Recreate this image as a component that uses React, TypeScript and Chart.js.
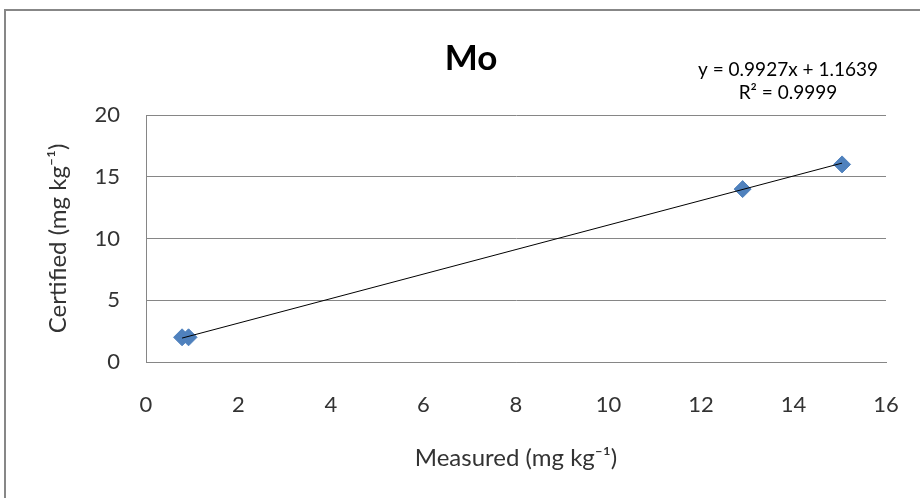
import React, { useEffect, useRef } from "react";
import { Chart, registerables } from "chart.js";

Chart.register(...registerables);

const measured = [0.78, 0.92, 12.9, 15.05];
const certified = [2, 2, 14, 16];
const slope = 0.9927;
const intercept = 1.1639;
const rSquared = "0.9999";
const titleText = "Mo";
const xTitle = "Measured (mg kg\u207B\u00B9)";
const yTitle = "Certified (mg kg\u207B\u00B9)";
const equationText = "y = 0.9927x + 1.1639";
const r2Text = "R\u00B2 = " + rSquared;

const FONT = "Lato, 'Open Sans', sans-serif";

export default function App() {
  const ref = useRef<HTMLCanvasElement | null>(null);

  useEffect(() => {
    if (!ref.current) return;
    const xMin = Math.min(...measured);
    const xMax = Math.max(...measured);
    const trend = [
      { x: xMin, y: slope * xMin + intercept },
      { x: xMax, y: slope * xMax + intercept },
    ];
    const points = measured.map((m, i) => ({ x: m, y: certified[i] }));

    const decor = {
      id: "decor",
      afterDraw(chart: any) {
        const ctx = chart.ctx;
        ctx.save();
        // outer frame
        ctx.strokeStyle = "#878787";
        ctx.lineWidth = 2;
        ctx.beginPath();
        ctx.moveTo(5, 498);
        ctx.lineTo(5, 10);
        ctx.lineTo(920, 10);
        ctx.stroke();
        // title
        ctx.fillStyle = "#000000";
        ctx.font = "bold 35px " + FONT;
        ctx.textAlign = "center";
        ctx.textBaseline = "middle";
        ctx.fillText(titleText, 471, 59);
        // equation
        ctx.font = "19px " + FONT;
        ctx.fillText(equationText, 788, 70);
        ctx.fillText(r2Text, 788, 93);
        ctx.restore();
      },
    };

    const chart = new Chart(ref.current, {
      type: "scatter",
      data: {
        datasets: [
          {
            type: "line",
            data: trend,
            borderColor: "#000000",
            borderWidth: 1,
            pointRadius: 0,
            fill: false,
            order: 0,
          } as any,
          {
            data: points,
            backgroundColor: "#4F81BD",
            borderColor: "#4F81BD",
            pointStyle: "rectRot",
            pointRadius: 8.5,
            order: 1,
          },
        ],
      },
      options: {
        responsive: false,
        animation: false,
        layout: { padding: { top: 115, left: 0, right: 34, bottom: 0 } },
        plugins: {
          legend: { display: false },
          tooltip: { enabled: false },
          title: { display: false },
        },
        scales: {
          x: {
            type: "linear",
            min: 0,
            max: 16,
            afterFit(scale: any) {
              scale.height = 136;
              scale.paddingLeft = 0;
              scale.paddingRight = 0;
            },
            ticks: {
              stepSize: 2,
              padding: 30,
              color: "#333333",
              font: { family: FONT, size: 22 },
            },
            grid: { display: false, drawTicks: false },
            border: { display: true, color: "#868686", width: 1 },
            title: {
              display: true,
              text: xTitle,
              color: "#333333",
              font: { family: FONT, size: 24 },
              padding: { top: 0, bottom: 25 },
            },
          },
          y: {
            type: "linear",
            min: 0,
            max: 20,
            afterFit(scale: any) {
              scale.width = 146;
              scale.paddingTop = 0;
              scale.paddingBottom = 0;
            },
            ticks: {
              stepSize: 5,
              padding: 26,
              color: "#333333",
              font: { family: FONT, size: 22 },
            },
            grid: { display: true, drawTicks: false, color: "#868686", lineWidth: 1 },
            border: { display: true, color: "#868686", width: 1 },
            title: {
              display: true,
              text: yTitle,
              color: "#333333",
              font: { family: FONT, size: 24 },
              padding: { top: 44, bottom: 0 },
            },
          },
        },
      },
      plugins: [decor],
    });
    return () => chart.destroy();
  }, []);

  return (
    <div style={{ position: "absolute", left: 0, top: 0, width: 920, height: 498, background: "#fff" }}>
      <canvas ref={ref} width={920} height={498} />
    </div>
  );
}
